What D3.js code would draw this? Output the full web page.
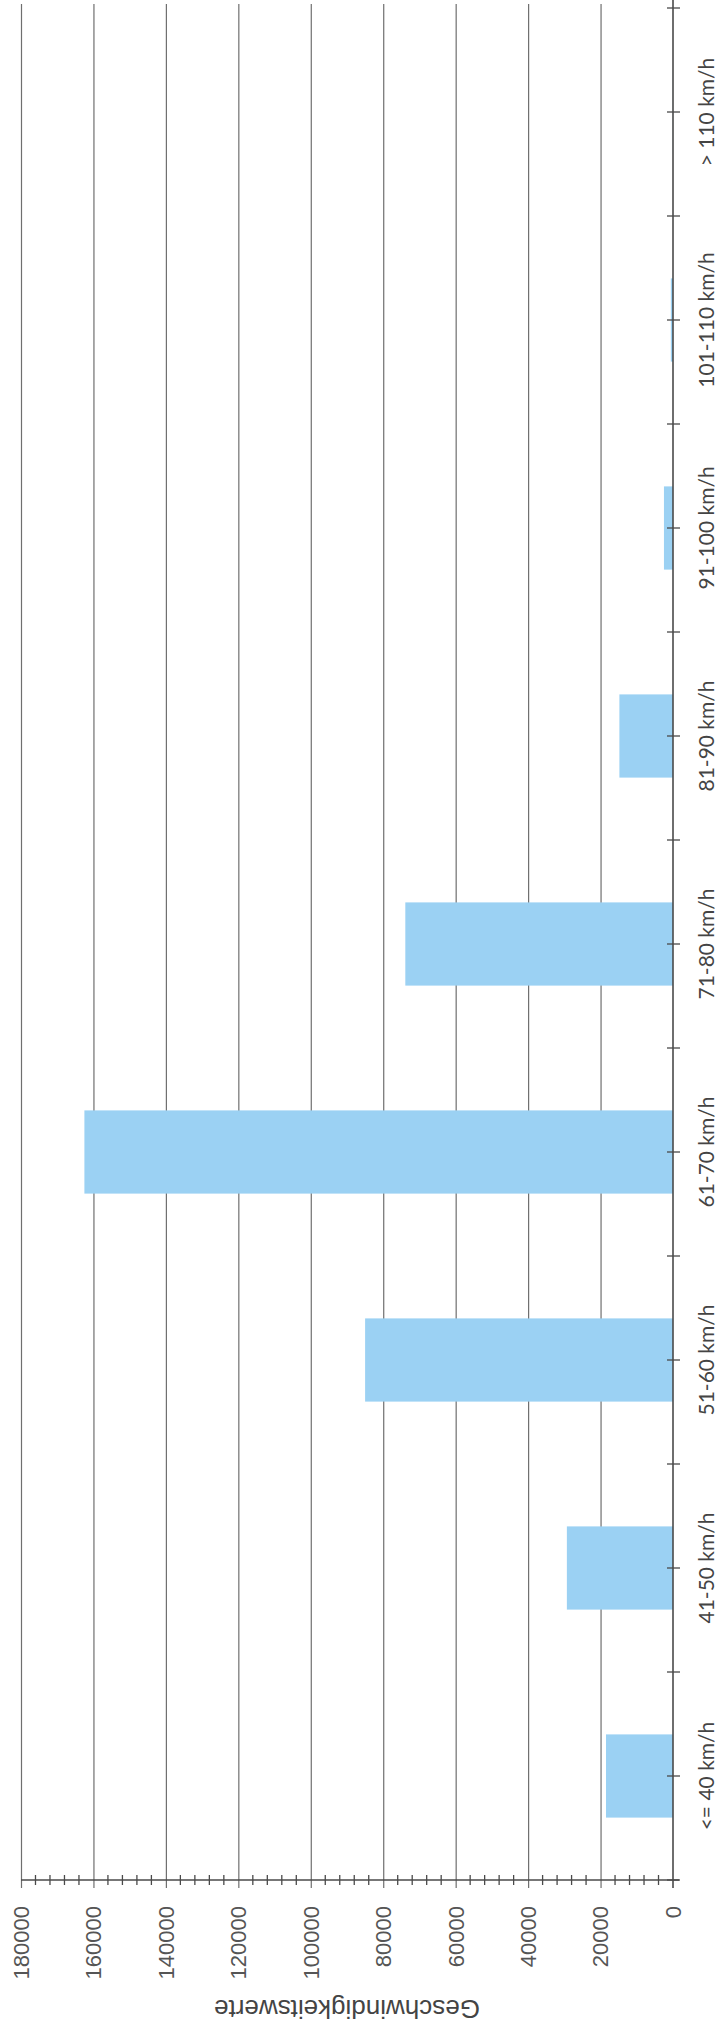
<!DOCTYPE html>
<html>
<head>
<meta charset="utf-8">
<script src="https://cdn.jsdelivr.net/npm/d3@7"></script>
<style>
  body { margin: 0; background: #fff; }
  .domain { display: none; }
</style>
</head>
<body>
<svg id="canvas"></svg>
<script>
// chart is drawn turned by 90 degrees, like the scanned page
const categories = ['<= 40 km/h', '41-50 km/h', '51-60 km/h', '61-70 km/h', '71-80 km/h',
                    '81-90 km/h', '91-100 km/h', '101-110 km/h', '> 110 km/h']
const values = [18500, 29300, 85000, 162500, 73900, 14800, 2500, 600, 50]
const valueTicks = [0, 20000, 40000, 60000, 80000, 100000, 120000, 140000, 160000, 180000]
const minorTicks = d3.range(0, 180001, 4000).filter(v => v % 20000 !== 0)
const axisTitle = 'Geschwindigkeitswerte'

const width = 717
const height = 2033
const axisX = 673
const axisY = 1880
const topY = 8
const leftX = 21

const barColor = '#9bd1f3'
const gridColor = '#6f6f6f'
const axisColor = '#4a4a4a'

let canvas = d3.select('#canvas')
    .attr('width', width)
    .attr('height', height)

let x = d3.scaleLinear()
    .domain([0, 180000])
    .range([axisX, leftX])

let y = d3.scaleBand()
    .domain(categories)
    .range([axisY, topY])
    .paddingInner(0.6)
    .paddingOuter(0.3)

// gridlines
canvas.append('g')
    .attr('transform', 'translate(0,' + axisY + ')')
    .call(d3.axisBottom(x).tickValues(valueTicks.slice(1)).tickSize(-(axisY - 4)).tickFormat(''))
    .call(g => g.selectAll('.tick line')
        .attr('stroke', gridColor)
        .attr('stroke-width', 1.2)
        .attr('y2', 8)
        .attr('y1', -(axisY - 4)))

// bars
canvas.selectAll('rect.bar')
    .data(values)
    .enter()
    .append('rect')
    .attr('class', 'bar')
    .attr('x', d => x(d))
    .attr('y', (d, i) => y(categories[i]))
    .attr('width', d => x(0) - x(d))
    .attr('height', y.bandwidth())
    .attr('fill', barColor)

// value axis line + minor ticks
canvas.append('line')
    .attr('x1', leftX).attr('x2', axisX + 6)
    .attr('y1', axisY).attr('y2', axisY)
    .attr('stroke', axisColor).attr('stroke-width', 1.6)

canvas.selectAll('line.minor')
    .data(minorTicks)
    .enter()
    .append('line')
    .attr('class', 'minor')
    .attr('x1', d => x(d)).attr('x2', d => x(d))
    .attr('y1', axisY - 5).attr('y2', axisY + 5)
    .attr('stroke', axisColor)
    .attr('stroke-width', 1.3)

// value labels
canvas.selectAll('text.value')
    .data(valueTicks)
    .enter()
    .append('text')
    .attr('class', 'value')
    .attr('transform', d => 'translate(' + x(d) + ',' + (axisY + 26) + ') rotate(-90)')
    .attr('text-anchor', 'end')
    .attr('dy', '0.36em')
    .style('font-family', '"Liberation Sans", Arial, sans-serif')
    .style('font-size', '22px')
    .attr('fill', '#555')
    .text(d => d)

// category axis
canvas.append('line')
    .attr('x1', axisX).attr('x2', axisX)
    .attr('y1', 0).attr('y2', axisY + 8)
    .attr('stroke', axisColor).attr('stroke-width', 1.6)

let halfSteps = []
categories.forEach(c => {
    let mid = y(c) + y.bandwidth() / 2
    halfSteps.push(mid, mid + y.step() / 2)
})
halfSteps.push(y(categories[categories.length - 1]) + y.bandwidth() / 2 - y.step() / 2)

canvas.selectAll('line.cattick')
    .data(halfSteps)
    .enter()
    .append('line')
    .attr('class', 'cattick')
    .attr('x1', axisX - 6).attr('x2', axisX + 7)
    .attr('y1', d => d).attr('y2', d => d)
    .attr('stroke', axisColor)
    .attr('stroke-width', 1.3)

canvas.selectAll('text.cat')
    .data(categories)
    .enter()
    .append('text')
    .attr('class', 'cat')
    .attr('transform', d => 'translate(714,' + (y(d) + y.bandwidth() / 2) + ') rotate(-90)')
    .attr('text-anchor', 'middle')
    .style('font-family', 'Lato, "Open Sans", sans-serif')
    .style('font-size', '21px')
    .attr('fill', '#444')
    .text(d => d)

// axis title, upside down
canvas.append('text')
    .attr('transform', 'translate(' + ((leftX + axisX) / 2) + ',2000) rotate(180)')
    .attr('text-anchor', 'middle')
    .style('font-family', '"Liberation Sans", Arial, sans-serif')
    .style('font-size', '26px')
    .attr('fill', '#444')
    .text(axisTitle)
</script>
</body>
</html>
